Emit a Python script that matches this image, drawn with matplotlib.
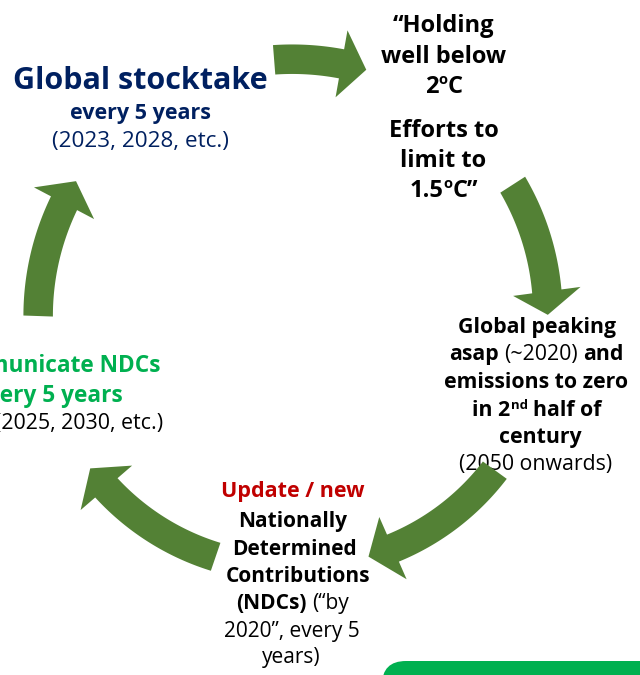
import matplotlib
matplotlib.use("Agg")
import matplotlib.pyplot as plt
import numpy as np
from matplotlib.patches import Polygon, FancyBboxPatch

FONT = "Open Sans"
ARROW_GREEN = "#538135"
NAVY = "#002060"
TEXT_GREEN = "#00B050"
RED = "#C00000"
BLACK = "#000000"

# ---- cycle arrows (clockwise, angle in degrees measured from 12 o'clock) ----
arrow_start_deg = [-4.5, 57.2, 126.0, 198.9, 272.0]
arrow_tip_deg = [15.6, 87.7, 162.4, 235.0, 303.3]
arrow_r_start = [266, 259, 247, 245, 257]
arrow_r_end = [265, 253, 243, 250, 262]
arrow_head_deg = [5.5, 5.3, 6.1, 5.8, 5.5]

# ---- text content ----
stocktake_lines = [
    [("Global stocktake", "b")],
    [("every 5 years", "b")],
    [("(2023, 2028, etc.)", "r")],
]
goal_lines = [
    [("\u201cHolding", "b")],
    [("well below", "b")],
    [("2", "b"), ("o", "bsup"), ("C", "b")],
    [("Efforts to", "b")],
    [("limit to", "b")],
    [("1.5", "b"), ("o", "bsup"), ("C\u201d", "b")],
]
peaking_lines = [
    [("Global peaking", "b")],
    [("asap", "b"), (" (~2020)", "r"), (" and", "b")],
    [("emissions to zero", "b")],
    [("in 2", "b"), ("nd", "bsup"), (" half of", "b")],
    [("century", "b")],
    [("(2050 onwards)", "r")],
]
ndc_lines = [
    [("Update / new", "b", RED)],
    [("Nationally", "b")],
    [("Determined", "b")],
    [("Contributions", "b")],
    [("(NDCs)", "b"), (" (\u201cby", "r")],
    [("2020\u201d, every 5", "r")],
    [("years)", "r")],
]
communicate_lines = [
    [("Communicate NDCs", "b", TEXT_GREEN)],
    [("every 5 years", "b", TEXT_GREEN)],
    [("(2025, 2030, etc.)", "r", BLACK)],
]

fig = plt.figure(figsize=(6.4, 6.75), dpi=100)
ax = fig.add_axes([0, 0, 1, 1])
ax.set_xlim(0, 640)
ax.set_ylim(675, 0)
ax.axis("off")
renderer = fig.canvas.get_renderer()


def text_width(s, size, weight):
    t = ax.text(0, 0, s, fontsize=size, fontweight=weight, family=FONT)
    w = t.get_window_extent(renderer).width
    t.remove()
    return w


def space_width(size, weight):
    return text_width("x x", size, weight) - text_width("xx", size, weight)


def rich_line(x, y, pieces, size, color, align="center"):
    items = []
    total = 0.0
    for p in pieces:
        txt, style = p[0], p[1]
        col = p[2] if len(p) > 2 else color
        weight = "bold" if style.startswith("b") else "normal"
        sup = style.endswith("sup")
        fs = size * 0.62 if sup else size
        gap = 0.0
        if txt.startswith(" "):
            txt = txt[1:]
            gap = space_width(size, weight)
        w = text_width(txt, fs, weight)
        items.append((txt, fs, weight, col, sup, gap, w))
        total += gap + w
    if align == "center":
        cur = x - total / 2
    elif align == "right":
        cur = x - total
    else:
        cur = x
    for txt, fs, weight, col, sup, gap, w in items:
        cur += gap
        yy = y - size * 100 / 72 * 0.36 if sup else y
        ax.text(cur, yy, txt, fontsize=fs, fontweight=weight, color=col,
                family=FONT, ha="left", va="baseline", zorder=2)
        cur += w


def draw_block(lines, xs, ys, sizes, color, align="center"):
    for pieces, x, y, s in zip(lines, xs, ys, sizes):
        rich_line(x, y, pieces, s, color, align)


# text blocks
draw_block(stocktake_lines, [140.5, 141, 140.7], [89, 119, 147],
           [22, 15.5, 16.2], NAVY)
draw_block(goal_lines, [443.5] * 6, [32, 63, 93, 137, 167, 197], [17] * 6, BLACK)
draw_block(peaking_lines, [537, 536.5, 536.5, 537, 540, 536],
           [333, 360, 388, 416.5, 443.5, 470], [15.3] * 6, BLACK)
draw_block(ndc_lines, [292.5, 292.5, 294, 298, 292.5, 292, 291.7],
           [496.5, 527, 555, 581.5, 609, 636.5, 663], [15.5] + [15] * 6, BLACK)
draw_block(communicate_lines, [160, 123, 163], [372.5, 401.5, 428.5],
           [16.3, 16.3, 15.4], BLACK, align="right")


# arrows
def arrow_poly(cx, cy, phi0, phi1, r0, r1, w, hw, hl, n=80):
    phib = phi1 - hl
    phis = np.linspace(phi0, phib, n)
    rs = r0 + (r1 - r0) * (phis - phi0) / (phi1 - phi0)

    def pt(phi, r):
        a = np.deg2rad(phi)
        return (cx + r * np.sin(a), cy - r * np.cos(a))

    outer = [pt(p, r + w / 2) for p, r in zip(phis, rs)]
    inner = [pt(p, r - w / 2) for p, r in zip(phis[::-1], rs[::-1])]
    rb = rs[-1]
    head = [pt(phib, rb + hw / 2), pt(phi1, r1), pt(phib, rb - hw / 2)]
    return outer + head + inner


CX, CY = 295, 325
for a0, a1, r0, r1, hl in zip(arrow_start_deg, arrow_tip_deg, arrow_r_start,
                              arrow_r_end, arrow_head_deg):
    poly = arrow_poly(CX, CY, a0, a1, r0, r1, 29.5, 68, hl)
    ax.add_patch(Polygon(poly, closed=True, facecolor=ARROW_GREEN,
                         edgecolor="none", zorder=3))

# green rounded box at bottom right
ax.add_patch(FancyBboxPatch((382, 661), 400, 100,
                            boxstyle="round,pad=0,rounding_size=24",
                            facecolor="#00B050", edgecolor="none", zorder=1))

fig.savefig("out.png", dpi=100)
